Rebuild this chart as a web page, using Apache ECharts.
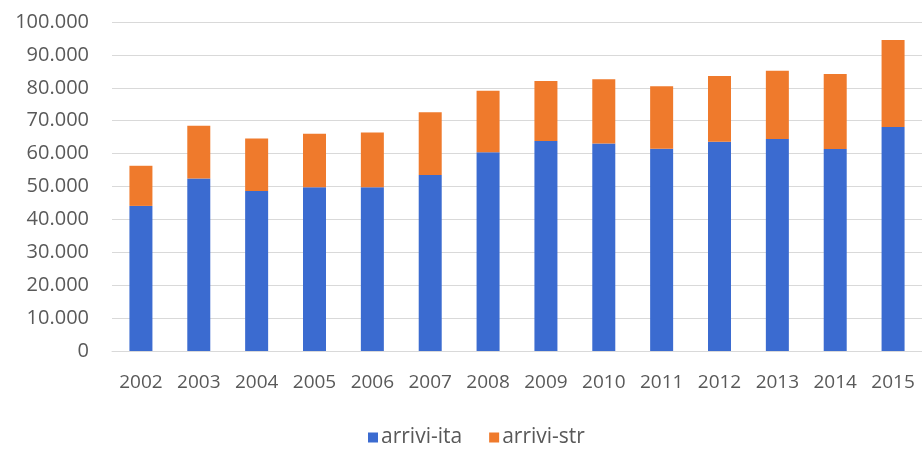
<!DOCTYPE html>
<html>
<head>
<meta charset="utf-8">
<script src="https://cdn.jsdelivr.net/npm/echarts@6/dist/echarts.min.js"></script>
<style>html,body{margin:0;padding:0;background:#fff}#c{width:922px;height:450px}</style>
</head>
<body>
<div id="c"></div>
<script>
const years = ['2002','2003','2004','2005','2006','2007','2008','2009','2010','2011','2012','2013','2014','2015'];
const arriviIta = [44100, 52400, 48600, 49800, 49800, 53500, 60400, 63800, 63100, 61500, 63600, 64400, 61400, 68100];
const arriviStr = [12200, 16100, 16000, 16200, 16600, 19100, 18700, 18300, 19500, 19000, 20000, 20800, 22800, 26400];
const seriesNames = ['arrivi-ita', 'arrivi-str'];

const chart = echarts.init(document.getElementById('c'), null, {renderer: 'canvas'});
const fmt = v => v === 0 ? '0' : String(v).replace(/\B(?=(\d{3})+(?!\d))/g, '.');
chart.setOption({
  animation: false,
  backgroundColor: '#ffffff',
  textStyle: {fontFamily: 'Open Sans'},
  grid: {left: 112, top: 22, bottom: 99, width: 813, containLabel: false},
  legend: {
    data: seriesNames,
    top: 427,
    left: 368,
    padding: 0,
    itemWidth: 10, itemHeight: 10, itemGap: 27,
    icon: 'rect',
    textStyle: {fontSize: 21, color: '#595959', fontFamily: 'Open Sans', padding: [0, 0, 0, -2]}
  },
  xAxis: {
    type: 'category',
    data: years,
    axisLine: {show: true, lineStyle: {color: '#d9d9d9'}},
    axisTick: {show: false},
    axisLabel: {fontSize: 19, color: '#595959', margin: 22, fontFamily: 'Open Sans'}
  },
  yAxis: {
    type: 'value',
    min: 0, max: 100000, interval: 10000,
    axisLine: {show: false},
    axisTick: {show: false},
    splitLine: {lineStyle: {color: '#d9d9d9', width: 1}},
    axisLabel: {fontSize: 20, color: '#595959', margin: 23, formatter: fmt, fontFamily: 'Open Sans'}
  },
  series: [
    {name: seriesNames[0], type: 'bar', stack: 'tot', data: arriviIta, barWidth: 23, itemStyle: {color: '#3b6bd0'}},
    {name: seriesNames[1], type: 'bar', stack: 'tot', data: arriviStr, barWidth: 23, itemStyle: {color: '#ef7a2c'}}
  ]
});
</script>
</body>
</html>
